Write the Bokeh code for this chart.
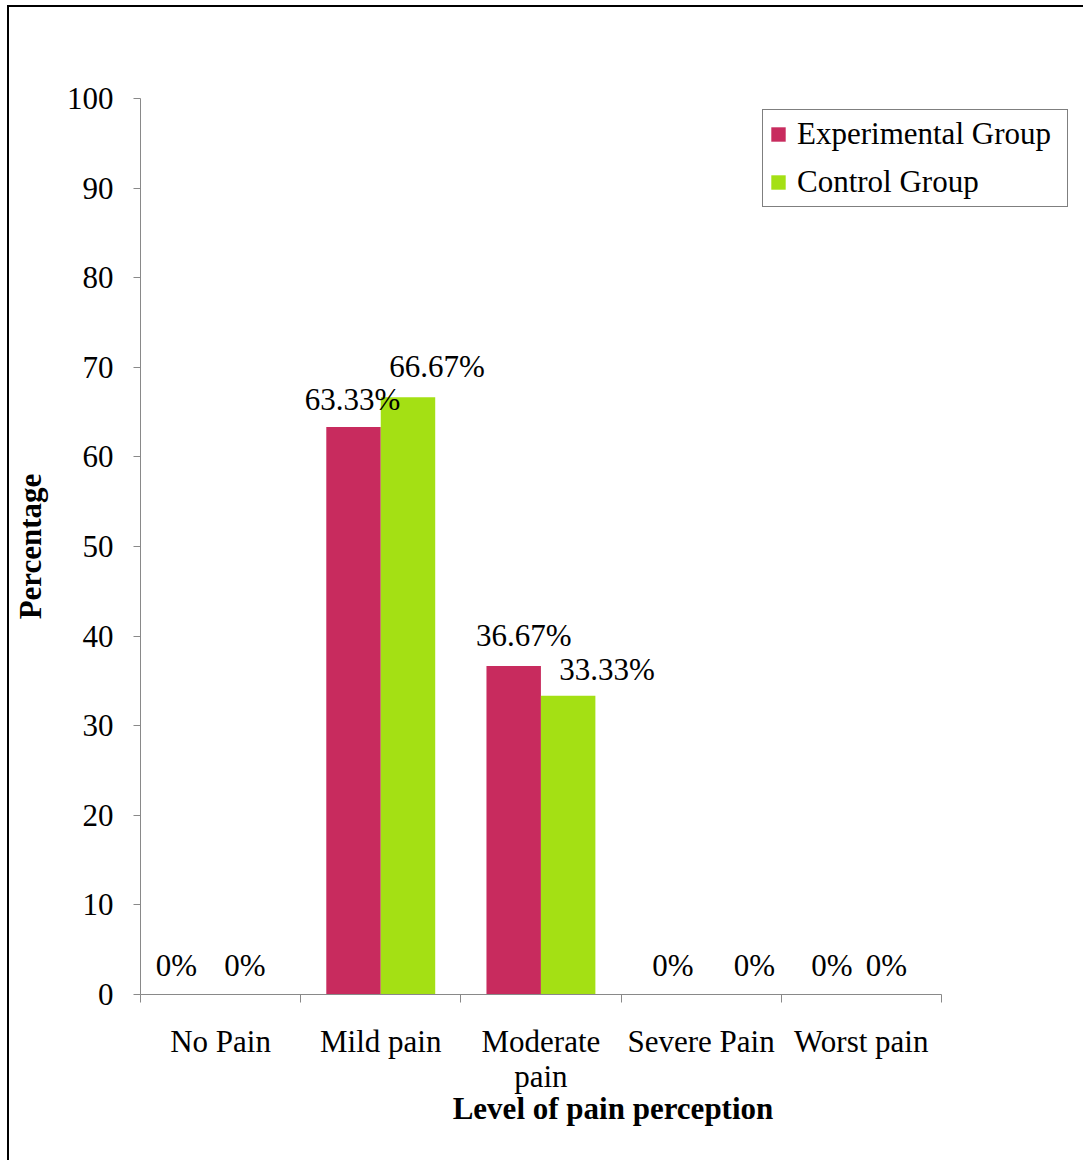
from bokeh.plotting import figure
from bokeh.models import ColumnDataSource, FixedTicker, Range1d, Legend, LegendItem
from bokeh.core.properties import value
from bokeh.transform import dodge
from bokeh.embed import file_html
from bokeh.resources import INLINE

# ---- data ----
categories = ["No Pain", "Mild pain", "Moderate\npain", "Severe Pain", "Worst pain"]
experimental = [0, 63.33, 36.67, 0, 0]
control = [0, 66.67, 33.33, 0, 0]
y_ticks = [0, 10, 20, 30, 40, 50, 60, 70, 80, 90, 100]
series_names = ["Experimental Group", "Control Group"]

# ---- styles ----
FONT = "Liberation Serif"
FS = "31px"
EXP_COLOR = "#C82B5E"
CTRL_COLOR = "#A4E014"
AXIS_COLOR = "#898989"
BAR_W = 0.34
CAT_PX = 160          # pixel width of one category slot
FRAME_W = 944         # frame extends right so the legend can overhang the axis end
# manual label nudges (pixels), like the hand-placed labels of the original
exp_dx = [-17, -1, 10, -1, -2]
ctrl_dx = [-3, 29, 39, 26, -2]
exp_dy = [-29, -28, -30, -29, -29]
ctrl_dy = [-29, -31, -26, -29, -29]


def fmt(v):
    return "0%" if v == 0 else "%.2f%%" % v


centers = [i + 0.5 for i in range(len(categories))]
src = ColumnDataSource(dict(
    center=centers,
    exp=experimental,
    ctrl=control,
    exp_lbl=[fmt(v) for v in experimental],
    ctrl_lbl=[fmt(v) for v in control],
    exp_dx=exp_dx, ctrl_dx=ctrl_dx, exp_dy=exp_dy, ctrl_dy=ctrl_dy,
))

p = figure(width=1076, height=1155,
           x_range=Range1d(0, FRAME_W / CAT_PX), y_range=Range1d(0, 100),
           output_backend="svg", toolbar_location=None,
           min_border_left=130, min_border_top=91,
           min_border_right=0, min_border_bottom=168)
p.margin = (5, 0, 0, 7)
p.styles = {"border-left": "2px solid black", "border-top": "2px solid black"}
p.outline_line_color = None
p.xgrid.visible = False
p.ygrid.visible = False
p.background_fill_color = "white"
p.border_fill_color = "white"

r_exp = p.vbar(x=dodge("center", -BAR_W / 2, range=p.x_range), top="exp", width=BAR_W,
               bottom=0, source=src, fill_color=EXP_COLOR, line_color=None)
r_ctrl = p.vbar(x=dodge("center", BAR_W / 2, range=p.x_range), top="ctrl", width=BAR_W,
                bottom=0, source=src, fill_color=CTRL_COLOR, line_color=None)

p.text(x=dodge("center", -BAR_W / 2, range=p.x_range), y="exp", text="exp_lbl",
       x_offset="exp_dx", y_offset="exp_dy", source=src,
       text_font=value(FONT), text_font_size=FS, text_align="center",
       text_baseline="alphabetic", text_color="black")
p.text(x=dodge("center", BAR_W / 2, range=p.x_range), y="ctrl", text="ctrl_lbl",
       x_offset="ctrl_dx", y_offset="ctrl_dy", source=src,
       text_font=value(FONT), text_font_size=FS, text_align="center",
       text_baseline="alphabetic", text_color="black")

# x axis: category names at centres, tick marks at boundaries
xa = p.xaxis[0]
xa.bounds = (0, len(categories))
xa.ticker = FixedTicker(ticks=centers, minor_ticks=list(range(len(categories) + 1)))
xa.major_label_overrides = {c: name for c, name in zip(centers, categories)}
xa.major_tick_line_color = None
xa.major_tick_out = 0
xa.major_tick_in = 0
xa.minor_tick_line_color = AXIS_COLOR
xa.minor_tick_out = 8
xa.minor_tick_in = 0
xa.axis_line_color = AXIS_COLOR
xa.major_label_text_font = FONT
xa.major_label_text_font_size = FS
xa.major_label_text_color = "black"
xa.major_label_text_line_height = 1.0
xa.major_label_standoff = 21
xa.axis_label = "Level of pain perception"
xa.axis_label_text_font = FONT
xa.axis_label_text_font_size = FS
xa.axis_label_text_font_style = "bold"
xa.axis_label_text_color = "black"
xa.axis_label_standoff = -6

ya = p.yaxis[0]
ya.ticker = FixedTicker(ticks=y_ticks, minor_ticks=[])
ya.axis_line_color = AXIS_COLOR
ya.major_tick_line_color = AXIS_COLOR
ya.major_tick_out = 7
ya.major_tick_in = 0
ya.minor_tick_line_color = None
ya.major_label_text_font = FONT
ya.major_label_text_font_size = FS
ya.major_label_text_color = "black"
ya.major_label_standoff = 20
ya.axis_label = "Percentage"
ya.axis_label_text_font = FONT
ya.axis_label_text_font_size = FS
ya.axis_label_text_font_style = "bold"
ya.axis_label_text_color = "black"
ya.axis_label_standoff = 16

legend = Legend(items=[LegendItem(label=series_names[0], renderers=[r_exp]),
                       LegendItem(label=series_names[1], renderers=[r_ctrl])],
                location=(622, 787), orientation="vertical",
                border_line_color="black", border_line_width=1.5,
                background_fill_color="white", background_fill_alpha=1,
                label_text_font=FONT, label_text_font_size=FS, label_text_color="black",
                glyph_width=18, glyph_height=18, label_standoff=10,
                label_height=30, label_width=264, spacing=12, padding=6, margin=0)
p.add_layout(legend, "center")

open("out.html", "w").write(file_html(p, INLINE))
